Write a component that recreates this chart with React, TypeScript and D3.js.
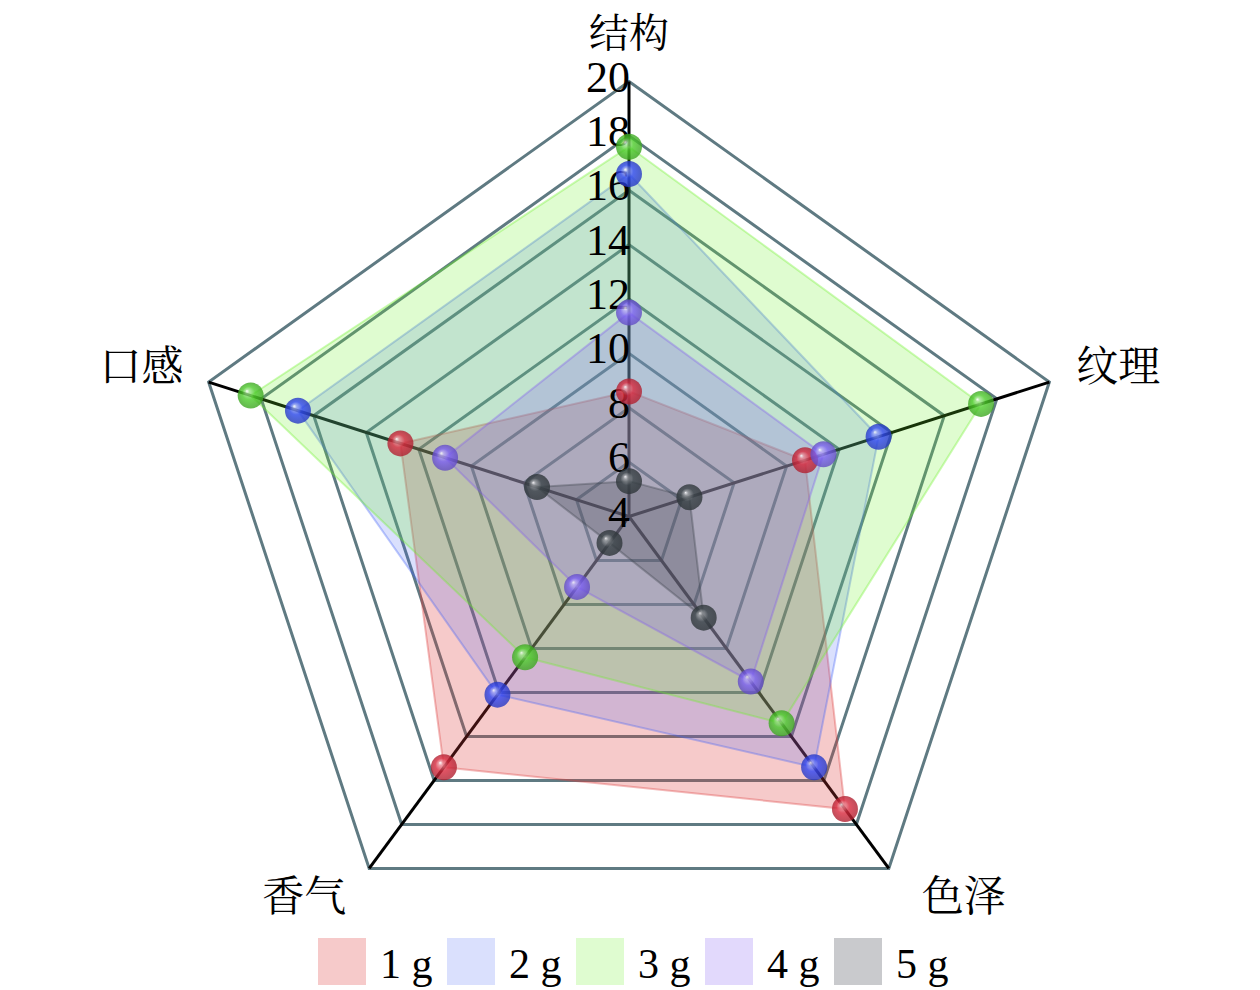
import * as d3 from "d3";

const axes = ["结构", "纹理", "色泽", "香气", "口感"];
const series = ["1 g", "2 g", "3 g", "4 g", "5 g"];
const values1 = [8.6, 10.7, 17.3, 15.4, 12.7];
const values2 = [16.6, 13.5, 15.4, 12.1, 16.6];
const values3 = [17.6, 17.4, 13.4, 10.4, 18.4];
const values4 = [11.5, 11.4, 11.5, 7.2, 11.0];
const values5 = [5.3, 6.3, 8.6, 5.2, 7.5];
const ticks = [4, 6, 8, 10, 12, 14, 16, 18, 20];

const fillColors = ["#dc3c3c", "#4664f5", "#6ef028", "#825af0", "#3c414b"];
const fillOpacity = [0.27, 0.2, 0.22, 0.23, 0.28];
const dotColors = ["#d8283c", "#2f45f2", "#4ccc2a", "#7a5ef2", "#394246"];

const W = 1260;
const H = 990;
const cx = 629;
const cy = 516.5;
const rx = 442;
const ry = 435;

const App = () => {
  const data = [values1, values2, values3, values4, values5];
  const r = d3.scaleLinear().domain([4, 20]).range([0, 1]);
  const angle = (i: number) => (i * 2 * Math.PI) / axes.length;
  const pt = (i: number, v: number): [number, number] => [
    cx + rx * r(v) * Math.sin(angle(i)),
    cy - ry * r(v) * Math.cos(angle(i)),
  ];
  const line = d3.line().curve(d3.curveLinearClosed);
  const ring = (v: number) => line(axes.map((_, i) => pt(i, v)));

  const labelPos = [
    { dx: 0, dy: -45, anchor: "middle" },
    { dx: 27, dy: -12, anchor: "start" },
    { dx: 75, dy: 32, anchor: "middle" },
    { dx: -65, dy: 32, anchor: "middle" },
    { dx: -25, dy: -12, anchor: "end" },
  ];
  const cjk = "'Noto Serif CJK SC', 'Noto Sans CJK SC', serif";
  const serif = "'Liberation Serif', 'Times New Roman', serif";

  return (
    <svg
      width={W}
      height={H}
      style={{ position: "absolute", left: 0, top: 0, background: "#fff" }}
    >
      <defs>
        {dotColors.map((c, k) => (
          <radialGradient key={k} id={`ball${k}`} cx="0.5" cy="0.5" r="0.5" fx="0.35" fy="0.32">
            <stop offset="0" stopColor="#ffffff" />
            <stop offset="0.16" stopColor={d3.interpolateRgb(c, "#fff")(0.45)} />
            <stop offset="0.5" stopColor={c} />
            <stop offset="1" stopColor={d3.color(c)!.darker(0.6).formatHex()} />
          </radialGradient>
        ))}
      </defs>

      {/* grid */}
      {ticks.slice(1).map((t) => (
        <path key={t} d={ring(t) ?? ""} fill="none" stroke="#5f7a82" strokeWidth={3} />
      ))}
      {axes.map((_, i) => {
        const [x, y] = pt(i, 20);
        return <line key={i} x1={cx} y1={cy} x2={x} y2={y} stroke="#000" strokeWidth={3} />;
      })}

      {/* areas */}
      {data.map((vals, k) => (
        <path
          key={k}
          d={line(vals.map((v, i) => pt(i, v))) ?? ""}
          fill={fillColors[k]}
          fillOpacity={fillOpacity[k]}
          stroke={fillColors[k]}
          strokeOpacity={0.35}
          strokeWidth={2}
        />
      ))}

      {/* tick labels */}
      {ticks.map((t) => (
        <text
          key={t}
          x={cx + 1}
          y={pt(0, t)[1] + 10}
          textAnchor="end"
          fontFamily={serif}
          fontSize={44}
          fill="#000"
        >
          {t}
        </text>
      ))}

      {/* points */}
      {data.map((vals, k) =>
        vals.map((v, i) => {
          const [x, y] = pt(i, v);
          return (
            <circle key={`${k}-${i}`} cx={x} cy={y} r={13} fill={`url(#ball${k})`} opacity={0.8} />
          );
        })
      )}

      {/* axis names */}
      {axes.map((a, i) => {
        const [x, y] = pt(i, 20);
        const p = labelPos[i];
        return (
          <text
            key={a}
            x={x + p.dx}
            y={y + p.dy}
            textAnchor={p.anchor}
            dominantBaseline="middle"
            fontFamily={cjk}
            fontSize={i === 0 ? 40 : 42}
            fill="#000"
          >
            {a}
          </text>
        );
      })}

      {/* legend */}
      {series.map((s, k) => (
        <g key={s} transform={`translate(${318 + k * 129},938)`}>
          <rect width={48} height={47} fill={fillColors[k]} fillOpacity={fillOpacity[k]} />
          <text x={62} y={40} fontFamily={serif} fontSize={42} fill="#000">
            {s}
          </text>
        </g>
      ))}
    </svg>
  );
};

export default App;
